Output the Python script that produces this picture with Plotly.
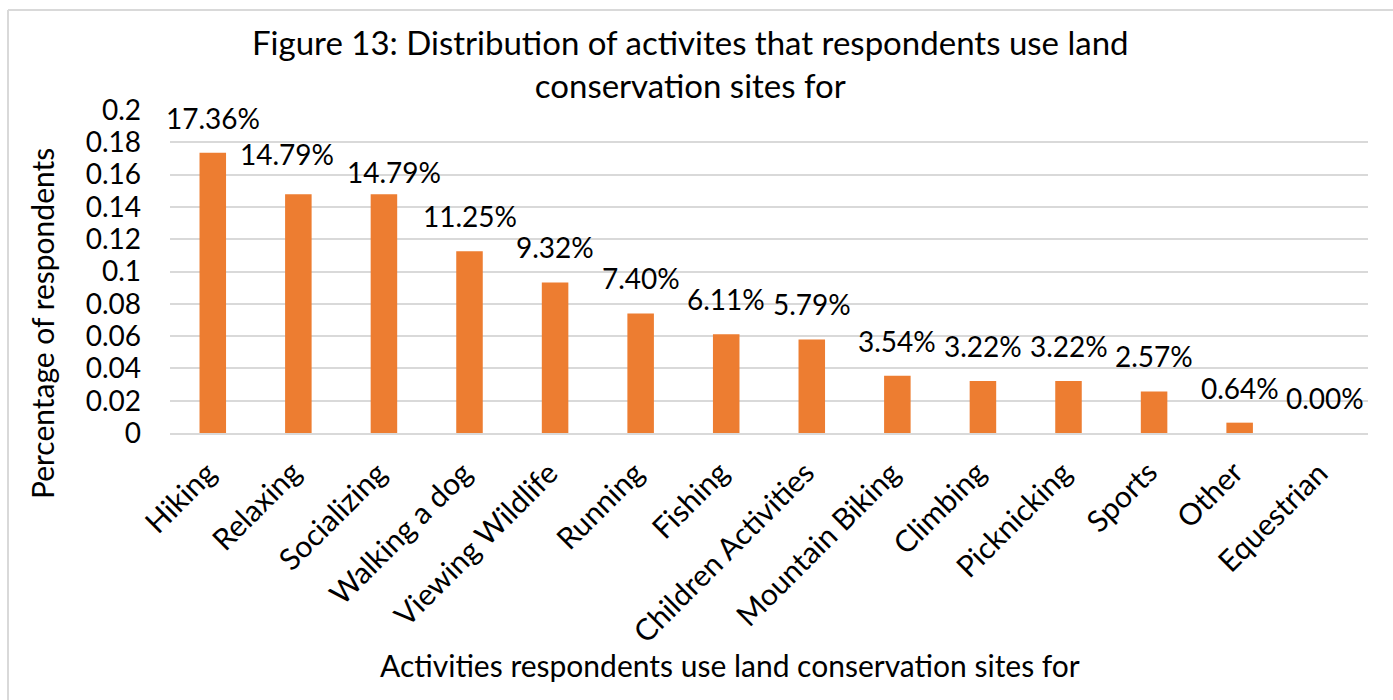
import plotly.graph_objects as go

# Survey results: share of respondents using land conservation sites for each activity
activities = [
    "Hiking", "Relaxing", "Socializing", "Walking a dog", "Viewing Wildlife",
    "Running", "Fishing", "Children Activities", "Mountain Biking", "Climbing",
    "Picknicking", "Sports", "Other", "Equestrian",
]
share = [0.1736, 0.1479, 0.1479, 0.1125, 0.0932, 0.0740, 0.0611, 0.0579,
         0.0354, 0.0322, 0.0322, 0.0257, 0.0064, 0.0000]
y_ticks = [0, 0.02, 0.04, 0.06, 0.08, 0.1, 0.12, 0.14, 0.16, 0.18, 0.2]
y_tick_text = ["0", "0.02", "0.04", "0.06", "0.08", "0.1", "0.12", "0.14",
               "0.16", "0.18", "0.2"]

# small nudges (px) so neighbouring value labels do not collide
label_dx = [0, -11, 10, 0, 0, 0, 0, 0, 0, 0, 0, 0, 0, 0]
label_dy = [0, 5, -13, 0, 0, 0, 0, 0, 0, 0, 0, 0, 0, 0]

FONT = "Lato"
BAR = "#ED7D31"
GRID = "#D9D9D9"

W, H = 1393, 700
L, R, T, B = 170, 25, 110, 267
pw, ph = W - L - R, H - T - B


def px_x(x):
    return (x - L) / pw


def px_y(y):
    return (H - B - y) / ph


fig = go.Figure(
    go.Bar(
        x=activities,
        y=share,
        marker=dict(color=BAR, line=dict(width=0)),
        width=0.31,
        hoverinfo="x+y",
    )
)

annotations = []
# value labels above the bars
for a, v, dx, dy in zip(activities, share, label_dx, label_dy):
    annotations.append(dict(
        x=a, y=v, xref="x", yref="y", text=f"{v * 100:.2f}%",
        showarrow=False, yanchor="bottom", xanchor="center",
        xshift=dx, yshift=16 + dy,
        font=dict(family=FONT, size=28, color="#000000"),
    ))

# slanted category labels under the axis
for a in activities:
    annotations.append(dict(
        x=a, y=0, xref="x", yref="y", text=a, textangle=-45,
        showarrow=False, xanchor="right", yanchor="top",
        xshift=12, yshift=-18,
        font=dict(family=FONT, size=30, color="#000000"),
    ))

# axis titles
annotations.append(dict(
    x=px_x(42), y=px_y(324), xref="paper", yref="paper",
    text="Percentage of respondents", textangle=-90, showarrow=False,
    xanchor="center", yanchor="middle",
    font=dict(family=FONT, size=30, color="#000000"),
))
annotations.append(dict(
    x=px_x(730), y=px_y(665), xref="paper", yref="paper",
    text="Activities respondents use land conservation sites for",
    showarrow=False, xanchor="center", yanchor="middle",
    font=dict(family=FONT, size=30, color="#000000"),
))

# chart title (two lines)
annotations.append(dict(
    x=px_x(690), y=px_y(64), xref="paper", yref="paper",
    text="Figure 13: Distribution of activites that respondents use land<br>conservation sites for",
    showarrow=False, xanchor="center", yanchor="middle", align="center",
    font=dict(family=FONT, size=33, color="#000000"),
))

shapes = [
    # chart frame (top and left edges)
    dict(type="line", xref="paper", yref="paper",
         x0=px_x(8), x1=px_x(1400), y0=px_y(10), y1=px_y(10),
         line=dict(color=GRID, width=2), layer="below"),
    dict(type="line", xref="paper", yref="paper",
         x0=px_x(8), x1=px_x(8), y0=px_y(10), y1=px_y(710),
         line=dict(color=GRID, width=2), layer="below"),
]

fig.update_layout(
    width=W, height=H,
    margin=dict(l=L, r=R, t=T, b=B, pad=0),
    paper_bgcolor="white", plot_bgcolor="white",
    showlegend=False,
    xaxis=dict(
        type="category",
        range=[-0.5, len(activities) - 0.5],
        autorange=False,
        showticklabels=False,
        showgrid=False, showline=True, linecolor=GRID, linewidth=2,
        ticks="",
    ),
    yaxis=dict(
        range=[0, 0.2],
        autorange=False,
        tickvals=y_ticks, ticktext=y_tick_text,
        tickfont=dict(family=FONT, size=28, color="#000000"),
        showgrid=True, gridcolor=GRID, gridwidth=2,
        zeroline=False, showline=False, ticks="", ticklabelstandoff=28,
    ),
    annotations=annotations,
    shapes=shapes,
)

fig.write_html("out.html")
